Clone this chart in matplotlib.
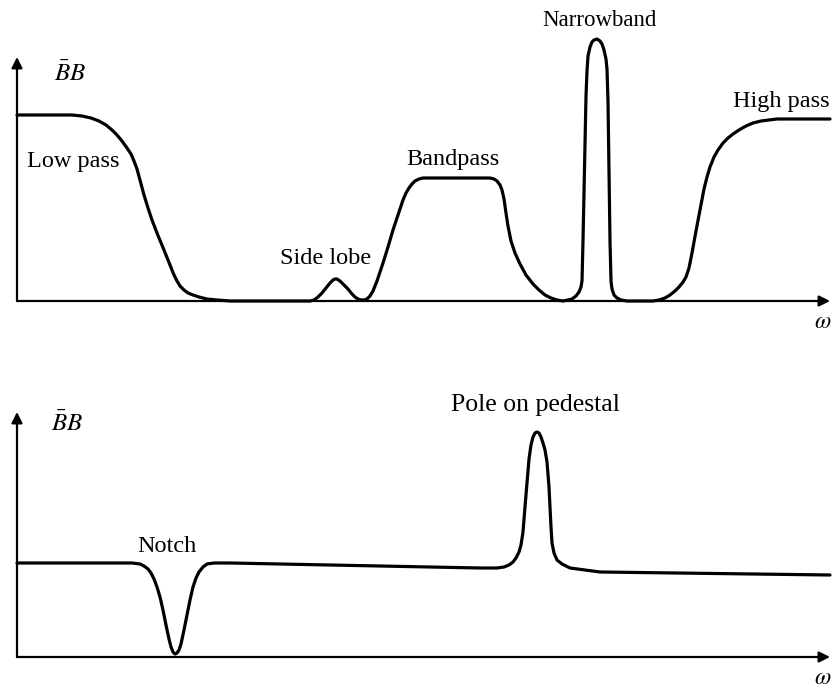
#!/usr/bin/env python3
"""sketch of typical filter response shapes |B|^2 vs omega"""

import matplotlib
matplotlib.use("Agg")
import matplotlib.pyplot as plt

plt.rcParams["font.family"] = ["Liberation Serif", "DejaVu Serif"]
plt.rcParams["mathtext.fontset"] = "stix"

# top panel: low pass, side lobe, bandpass, narrowband, high pass
top_w = [0, 40, 55, 65, 74, 82, 89, 95, 100, 105, 110, 114, 117, 120, 123, 127,
         131, 135, 140, 147, 153, 157, 160, 163, 167, 171, 176, 182, 190, 200, 213,
         293, 297, 301, 305, 309, 313, 316, 318, 320, 323, 327, 331, 335, 338, 341,
         344, 347, 350, 353, 356, 360, 366, 371, 376, 381, 386, 389, 392, 395, 398,
         402, 406, 473, 477, 480, 483, 485, 487, 489, 491, 494, 498, 503, 509, 516,
         522, 528, 534, 540, 546, 551, 555, 559, 562, 564, 565, 566, 567, 568, 569,
         570, 571, 573, 575, 577, 580, 583, 585, 587, 589, 590, 591, 592, 593, 594,
         595, 597, 600, 604, 610, 636, 642, 648, 653, 658, 662, 666, 669, 672, 675,
         679, 683, 687, 690, 693, 697, 701, 706, 711, 716, 722, 729, 736, 744, 752,
         760, 813]
top_b = [186, 186, 186, 185, 183, 180, 176, 171, 166, 160, 153, 147, 140, 132, 121, 106,
         93, 81, 68, 51, 36, 26, 20, 15, 11, 8, 6, 4, 2, 1, 0,
         0, 1, 4, 8, 13, 18, 21, 22, 22, 20, 16, 12, 7, 4, 2,
         1, 1, 2, 5, 10, 20, 38, 54, 71, 86, 101, 108, 113, 117, 120,
         122, 123, 123, 122, 120, 116, 111, 102, 88, 75, 60, 48, 37, 26, 17,
         11, 6, 3, 1, 0, 1, 2, 5, 9, 14, 20, 60, 110, 165, 205,
         230, 245, 254, 259, 261, 262, 260, 257, 251, 242, 232, 200, 130, 60, 20,
         12, 6, 3, 1, 0, 0, 1, 3, 6, 10, 14, 19, 24, 33, 48,
         70, 91, 112, 124, 134, 144, 151, 158, 163, 167, 171, 175, 178, 180, 181,
         182, 182]

# bottom panel: notch and pole on pedestal
bot_w = [0, 115, 123, 127, 131, 134, 137, 140, 143, 146, 149, 152, 154, 156, 158,
         160, 162, 164, 167, 170, 173, 176, 179, 182, 186, 190, 197, 213, 463, 480,
         487, 492, 496, 499, 502, 504, 506, 508, 510, 512, 514, 516, 518, 520, 522,
         524, 526, 528, 530, 532, 534, 535, 537, 540, 545, 553, 583, 813]
bot_b = [94, 94, 93, 91, 88, 84, 78, 70, 60, 47, 32, 18, 10, 5, 3,
         4, 7, 13, 27, 42, 57, 70, 79, 85, 90, 93, 94, 94, 89, 89,
         90, 92, 95, 99, 105, 112, 125, 150, 174, 198, 212, 220, 224, 225, 224,
         220, 214, 207, 195, 170, 130, 114, 104, 97, 93, 89, 85, 82]

W, H = 832, 688
fig = plt.figure(figsize=(W / 100, H / 100), dpi=100)


def panel(base_px, top_px, w, b, ylab_xy, labels):
    # one data unit = one pixel, origin at the corner of the axes
    ax = fig.add_axes([17 / W, 1 - base_px / H, 813 / W, (base_px - top_px) / H])
    ax.set_xlim(0, 813)
    ax.set_ylim(0, base_px - top_px)
    ax.axis("off")
    arrow = dict(arrowstyle="-|>", lw=1.6, color="black", mutation_scale=16,
                 shrinkA=0, shrinkB=0)
    ax.annotate("", xy=(0, base_px - top_px), xytext=(0, 0), arrowprops=arrow,
                annotation_clip=False)
    ax.annotate("", xy=(813, 0), xytext=(0, 0), arrowprops=arrow,
                annotation_clip=False)
    ax.plot(w, b, color="black", lw=2.3, solid_joinstyle="round",
            solid_capstyle="round", clip_on=False)
    ax.text(*ylab_xy, r"$\bar{B}B$", fontsize=18, ha="center", va="center")
    ax.text(814, -21, r"$\omega$", fontsize=17, ha="right", va="center")
    for txt, x, y, ha, fs in labels:
        ax.text(x, y, txt, fontsize=fs, ha=ha, va="center")
    return ax


panel(301, 57, top_w, top_b, (53, 227), [
    ("Low pass", 10, 140, "left", 17.5),
    ("Side lobe", 309, 43, "center", 17.5),
    ("Bandpass", 436, 142, "center", 17.5),
    ("Narrowband", 582, 281, "center", 16.5),
    ("High pass", 813, 200, "right", 17.5),
])
panel(657, 412, bot_w, bot_b, (50, 233), [
    ("Pole on pedestal", 518, 252, "center", 18.5),
    ("Notch", 150, 111, "center", 17.5),
])

fig.savefig("out.png", dpi=100)
plt.close(fig)
